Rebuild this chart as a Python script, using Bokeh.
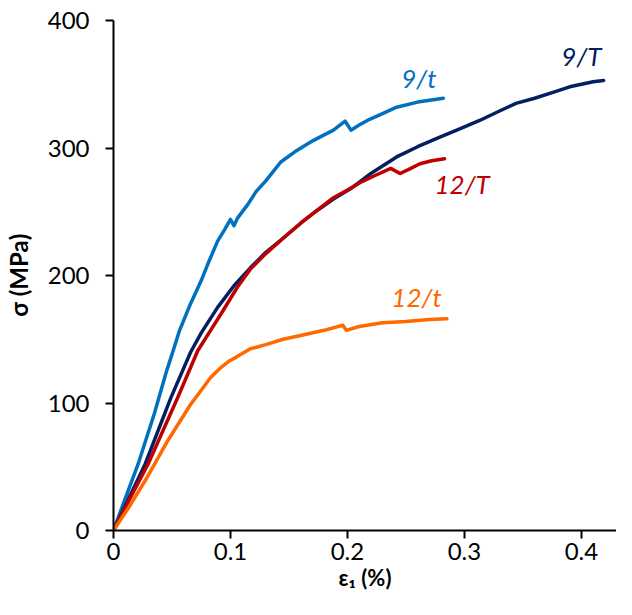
from bokeh.plotting import figure
from bokeh.models import Range1d, Label, FixedTicker
from bokeh.embed import file_html
from bokeh.resources import INLINE

# 9/t
x_9t = [0, 0.01, 0.021, 0.035, 0.045, 0.051, 0.0565, 0.065, 0.075, 0.082, 0.089, 0.095, 0.1,
        0.103, 0.106, 0.115, 0.122, 0.13, 0.143, 0.155, 0.171, 0.188, 0.198, 0.203, 0.21,
        0.217, 0.23, 0.242, 0.26, 0.282]
y_9t = [0, 25, 52, 92, 124, 141, 157, 176, 196, 212, 227, 236, 244,
        239, 245, 256, 266, 274, 289, 297, 306, 314, 321, 314, 318,
        321.6, 327, 332, 336, 339]
# 9/T
x_9T = [0, 0.013, 0.027, 0.049, 0.066, 0.075, 0.089, 0.103, 0.117, 0.13, 0.146, 0.16, 0.174,
        0.188, 0.2026, 0.22, 0.242, 0.26, 0.279, 0.296, 0.313, 0.33, 0.344, 0.36, 0.377,
        0.39, 0.4, 0.41, 0.419]
y_9T = [0, 25, 52, 104, 140, 155, 175, 192, 206, 218, 230, 241, 251,
        260, 268, 280, 293, 301, 308.5, 315, 321.6, 329, 335, 339, 344,
        348, 350, 352, 353]
# 12/T
x_12T = [0, 0.014, 0.0295, 0.055, 0.072, 0.083, 0.092, 0.106, 0.117, 0.13, 0.146, 0.16, 0.174,
         0.188, 0.2, 0.211, 0.225, 0.237, 0.245, 0.252, 0.262, 0.272, 0.283]
y_12T = [0, 25, 52, 104.5, 141, 157, 170, 191, 205, 217, 230, 241, 251,
         261, 267, 273, 279, 284, 280, 283, 287.6, 290, 291.5]
# 12/t
x_12t = [0, 0.013, 0.027, 0.0465, 0.066, 0.075, 0.083, 0.092, 0.099, 0.105, 0.117, 0.131, 0.145,
         0.16, 0.18, 0.196, 0.199, 0.21, 0.23, 0.25, 0.27, 0.285]
y_12t = [0, 18, 39, 70.6, 99, 110, 120, 128, 133, 136, 142.5, 146, 150,
         153, 157, 161, 157, 160, 163, 164, 165.5, 166]

series_names = ["9/t", "9/T", "12/T", "12/t"]
series_colors = ["#0070C0", "#002060", "#C00000", "#FF6A00"]
label_pos = [(0.261, 355), (0.400, 372), (0.298, 272), (0.259, 183)]

x_ticks = [0, 0.1, 0.2, 0.3, 0.4]
x_tick_labels = {0: "0", 0.1: "0.1", 0.2: "0.2", 0.3: "0.3", 0.4: "0.4"}
y_ticks = [0, 100, 200, 300, 400]

FONT = "Lato"

p = figure(width=616, height=599, output_backend="svg", toolbar_location=None,
           x_range=Range1d(0, 0.43), y_range=Range1d(0, 400),
           min_border_left=112, min_border_right=0, min_border_top=20, min_border_bottom=69)
p.outline_line_color = None
p.grid.visible = False

for xs, ys, c in zip([x_9t, x_9T, x_12T, x_12t], [y_9t, y_9T, y_12T, y_12t], series_colors):
    p.line(xs, ys, line_color=c, line_width=3.5, line_join="round", line_cap="round")

for name, c, (lx, ly) in zip(series_names, series_colors, label_pos):
    p.add_layout(Label(x=lx, y=ly, text=name, text_color=c, text_font=FONT,
                       text_font_style="italic", text_font_size="26px",
                       text_align="center", text_baseline="middle"))

p.xaxis.ticker = FixedTicker(ticks=x_ticks)
p.xaxis.major_label_overrides = x_tick_labels
p.yaxis.ticker = FixedTicker(ticks=y_ticks)
for ax in (p.xaxis, p.yaxis):
    ax.axis_line_width = 2
    ax.axis_line_color = "black"
    ax.major_tick_line_width = 2
    ax.major_tick_line_color = "black"
    ax.major_tick_out = 8
    ax.major_tick_in = 0
    ax.minor_tick_line_color = None
    ax.major_label_text_font = FONT
    ax.major_label_text_font_size = "24px"
    ax.major_label_text_color = "black"
    ax.axis_label_text_font = FONT
    ax.axis_label_text_font_style = "bold"
    ax.axis_label_text_color = "black"

p.xaxis.axis_label_text_font_size = "22px"
p.yaxis.axis_label_text_font_size = "24px"
p.xaxis.major_label_standoff = 4
p.yaxis.major_label_standoff = 16
p.xaxis.axis_label = "ε₁ (%)"
p.yaxis.axis_label = "σ (MPa)"
p.xaxis.axis_label_standoff = 1
p.yaxis.axis_label_standoff = 12

open("out.html", "w").write(file_html(p, INLINE))
